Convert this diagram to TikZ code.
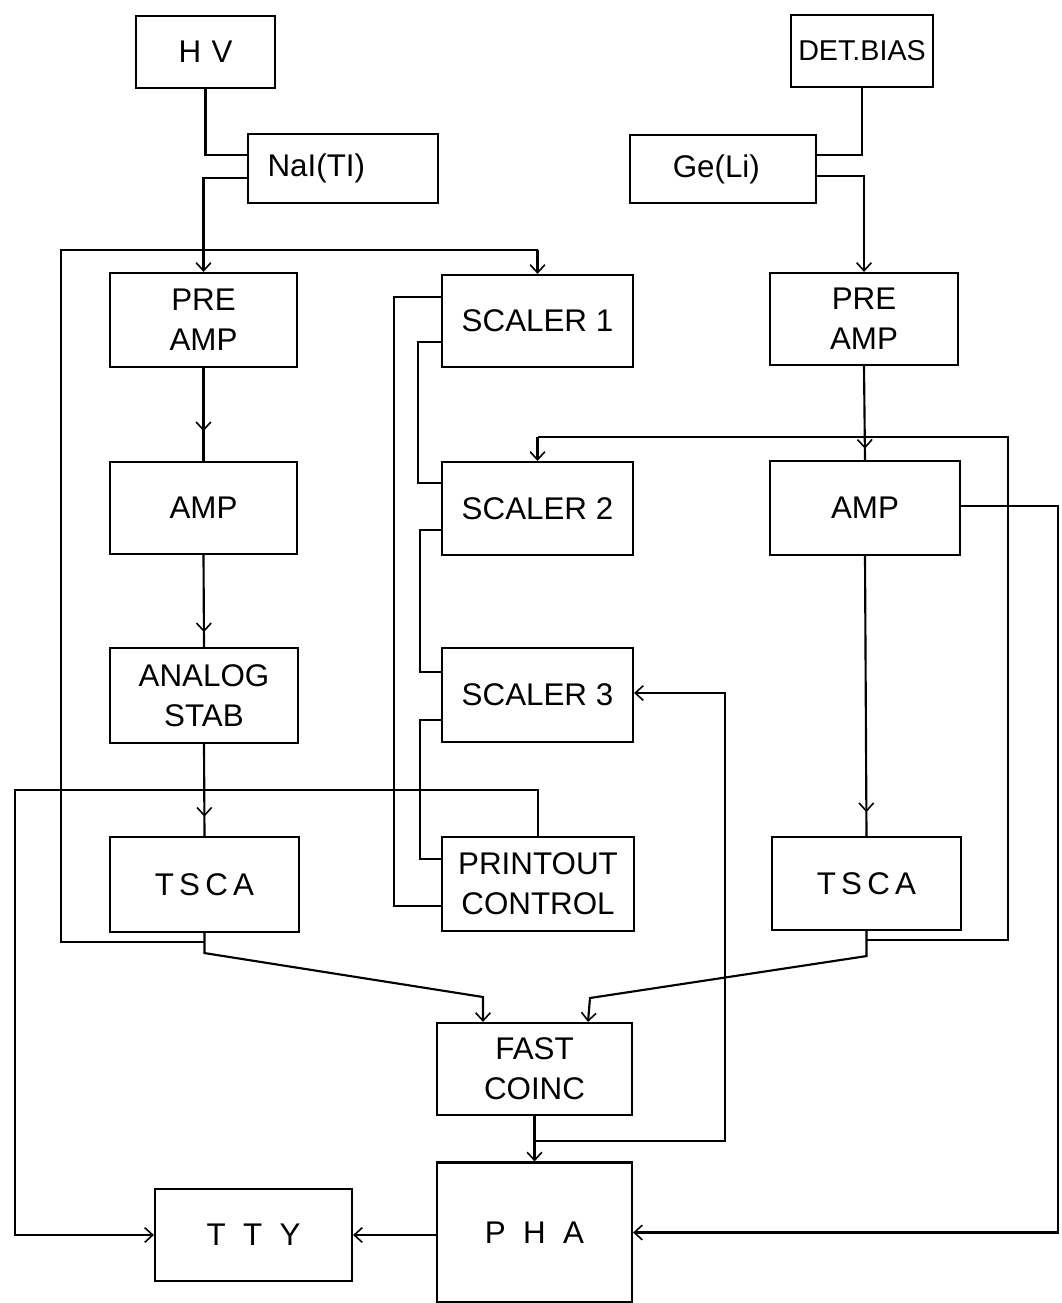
\documentclass[tikz,border=0pt]{standalone}
\usepackage{fontspec}
\setmainfont{Liberation Sans}
\usetikzlibrary{arrows.meta,decorations.markings}
\begin{document}
\begin{tikzpicture}[x=0.75pt,y=-0.75pt,
  line width=1.6pt,
  blk/.style={draw,rectangle,inner sep=0pt,align=center,font=\fontsize{23.5}{30}\selectfont},
  tip/.style={-{Straight Barb[length=6pt,width=11pt,line width=1.2pt]}},
  marr/.style={postaction={decorate},decoration={markings,mark=at position #1 with {\arrow[line width=1.2pt]{Straight Barb[length=6pt,width=11pt]}}}}]
\useasboundingbox (0,0) rectangle (1062,1303);
% boxes
\node[blk,minimum width=104.25pt,minimum height=54pt] (hv) at (205.5,52) {H\,\,V};
\node[blk,minimum width=142.5pt,minimum height=51.75pt] (nai) at (343,168.5) {NaI(TI)\hspace{40pt}};
\node[blk,minimum width=106.5pt,minimum height=54pt,font=\fontsize{21.5}{26}\selectfont] (db) at (862,51) {DET.BIAS};
\node[blk,minimum width=139.5pt,minimum height=51pt] (ge) at (723,169) {Ge(Li)\hspace{10pt}};
\node[blk,minimum width=140.25pt,minimum height=70.5pt] (preL) at (203.5,320) {PRE\\AMP};
\node[blk,minimum width=140.25pt,minimum height=69pt] (ampL) at (203.5,508) {AMP};
\node[blk,minimum width=141pt,minimum height=71.25pt] (ana) at (204,695.5) {ANALOG\\STAB};
\node[blk,minimum width=141.75pt,minimum height=71.25pt] (tscaL) at (204.5,884.5) {T\,S\,C\,A};
\node[blk,minimum width=143.25pt,minimum height=69pt] (s1) at (537.5,321) {SCALER 1};
\node[blk,minimum width=143.25pt,minimum height=69.75pt] (s2) at (537.5,508.5) {SCALER 2};
\node[blk,minimum width=143.25pt,minimum height=70.5pt] (s3) at (537.5,695) {SCALER 3};
\node[blk,minimum width=144pt,minimum height=70.5pt] (po) at (538,884) {PRINTOUT\\CONTROL};
\node[blk,minimum width=141pt,minimum height=69pt] (preR) at (864,319) {PRE\\AMP};
\node[blk,minimum width=142.5pt,minimum height=70.5pt] (ampR) at (865,508) {AMP};
\node[blk,minimum width=141.75pt,minimum height=69.75pt] (tscaR) at (866.5,883.5) {T\,S\,C\,A};
\node[blk,minimum width=146.25pt,minimum height=69pt] (fast) at (534.5,1069) {FAST\\COINC};
\node[blk,minimum width=147.75pt,minimum height=69pt] (tty) at (253.5,1235) {T\;\;T\;\;Y};
\node[blk,minimum width=146.25pt,minimum height=105pt] (pha) at (534.5,1232.5) {P\;\;H\;\;A};
% left detector chain
\draw (hv.south) |- (nai.west |- 0,155);
\draw[tip] (nai.west |- 0,178) -| (preL.north);
\draw (preL.north |- 0,250) -- (61,250) -- (61,942) -- (tscaL.south |- 0,942);
\draw (preL.north |- 0,250) -- (s1.north |- 0,250);
\draw[tip] (s1.north |- 0,250) -- (s1.north);
\draw[marr=0.68] (preL.south) -- (ampL.north);
\draw[marr=0.84] (ampL.south) -- (ana.north);
\draw[marr=0.79] (ana.south) -- (tscaL.north);
\draw[tip] (tscaL.south) -- ++(0,20) -- (483,997) -- (fast.north -| 483,0);
% printout to tty
\draw[tip] (po.north) |- (15,790) |- (tty.west);
\draw[tip] (pha.west |- tty.east) -- (tty.east);
% fast coinc
\draw[tip] (fast.south) -- (pha.north);
\draw[tip] (fast.south |- 0,1141) -| (725,693) -- (s3.east |- 0,693);
% scaler wiring
\draw (s1.west |- 0,297) -- (394,297) |- (po.west |- 0,906);
\draw (s1.west |- 0,342) -- (418,342) |- (s2.west |- 0,483);
\draw (s2.west |- 0,530) -- (420,530) |- (s3.west |- 0,672);
\draw (s3.west |- 0,720) -- (420,720) |- (po.west |- 0,859);
% right detector chain
\draw (db.south) |- (ge.east |- 0,155);
\draw[tip] (ge.east |- 0,176) -| (preR.north);
\draw[marr=0.88] (preR.south) -- (ampR.north);
\draw (tscaR.south |- 0,940) -| (1008,437) -- (s2.north |- 0,437);
\draw[tip] (s2.north |- 0,437) -- (s2.north);
\draw[marr=0.915] (ampR.south) -- (tscaR.north);
\draw[tip] (tscaR.south) -- ++(0,25) -- (590,998) -- (fast.north -| 588,0);
\draw[tip] (ampR.east |- 0,506) -- (1058,506) |- (pha.east);
\end{tikzpicture}
\end{document}
